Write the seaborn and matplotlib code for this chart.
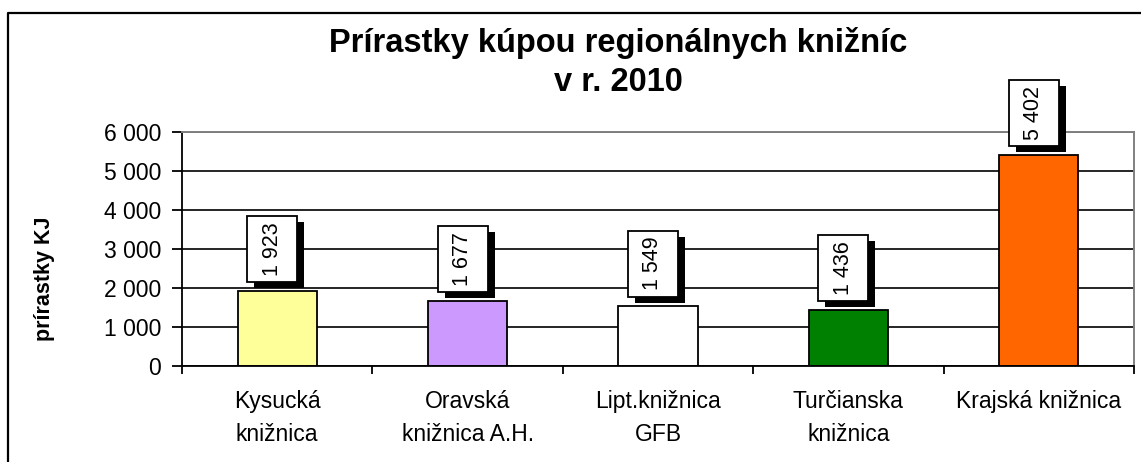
import matplotlib
matplotlib.use("Agg")
import matplotlib.pyplot as plt
import seaborn as sns
from matplotlib.patches import Rectangle
from matplotlib.lines import Line2D
from matplotlib.ticker import FuncFormatter, FixedLocator

# -------- DATA --------
libraries = ["Kysucká\nknižnica", "Oravská\nknižnica A.H.", "Lipt.knižnica\nGFB",
             "Turčianska\nknižnica", "Krajská knižnica"]
increments = [1923, 1677, 1549, 1436, 5402]
bar_colors = ["#FFFF99", "#CC99FF", "#FFFFFF", "#008000", "#FF6600"]
y_ticks = [0, 1000, 2000, 3000, 4000, 5000, 6000]

# -------- STYLE --------
sns.set_theme(style="white")
plt.rcParams["font.family"] = ["Liberation Sans", "DejaVu Sans"]
plt.rcParams["text.color"] = "black"
plt.rcParams["xtick.color"] = "black"
plt.rcParams["ytick.color"] = "black"
plt.rcParams["axes.labelcolor"] = "black"

W, H, DPI = 1141, 462, 100
fig = plt.figure(figsize=(W / DPI, H / DPI), dpi=DPI)
ax = fig.add_axes([182 / W, 1 - 366 / H, (1134 - 182) / W, (366 - 132) / H])

sns.barplot(x=list(range(len(increments))), y=increments, hue=list(range(len(increments))),
            palette=bar_colors, legend=False, width=0.415,
            edgecolor="black", linewidth=1.3, saturation=1, ax=ax)

ax.set_xlim(-0.5, len(increments) - 0.5)
ax.set_ylim(0, 6000)

# grid + spines
ax.set_axisbelow(True)
ax.yaxis.grid(True, color="black", linewidth=1.2)
for side in ["top", "right"]:
    ax.spines[side].set_color("#808080")
    ax.spines[side].set_linewidth(1.4)
for side in ["left", "bottom"]:
    ax.spines[side].set_color("black")
    ax.spines[side].set_linewidth(1.3)

# y axis
ax.yaxis.set_major_locator(FixedLocator(y_ticks))
ax.yaxis.set_major_formatter(FuncFormatter(lambda v, p: f"{v:,.0f}".replace(",", " ")))
ax.tick_params(axis="y", which="major", direction="out", length=7, width=1.3,
               color="black", pad=8, labelsize=16.5, left=True)

# x axis: labels at centers, ticks at category borders
ax.set_xticks(range(len(libraries)))
ax.set_xticklabels(libraries, linespacing=1.6)
ax.set_xticks([i - 0.5 for i in range(len(libraries) + 1)], minor=True)
ax.tick_params(axis="x", which="major", length=0, pad=17, labelsize=16.5)
ax.tick_params(axis="x", which="minor", direction="out", length=6, width=1.3,
               color="black", bottom=True)
ax.set_xlabel("")

ax.set_ylabel("prírastky KJ", fontsize=15.5, fontweight="bold")
ax.yaxis.set_label_coords(-0.1335, 0.372)

# -------- VALUE LABEL BOXES --------
ax_w_px = 1134 - 182
ax_h_px = 366 - 132
px_x = len(increments) / ax_w_px      # data units per pixel (x)
px_y = 6000 / ax_h_px                 # data units per pixel (y)
box_w, box_h, gap = 50 * px_x, 66 * px_y, 9 * px_y
sh_dx, sh_dy = 7 * px_x, 6 * px_y
for i, v in enumerate(increments):
    cx = i - 5 * px_x
    x0 = cx - box_w / 2
    y0 = v + gap
    ax.add_patch(Rectangle((x0 + sh_dx, y0 - sh_dy), box_w, box_h, facecolor="black",
                           edgecolor="black", lw=0, clip_on=False, zorder=4))
    ax.add_patch(Rectangle((x0, y0), box_w, box_h, facecolor="white",
                           edgecolor="black", lw=1.3, clip_on=False, zorder=5))
    ax.text(cx, y0 + box_h / 2, f"{v:,}".replace(",", " "), rotation=90,
            ha="center", va="center", fontsize=15.5, zorder=6, clip_on=False)

# -------- TITLE --------
fig.text(618.5 / W, 1 - 27 / H, "Prírastky kúpou regionálnych knižníc\nv r. 2010",
         ha="center", va="top", fontsize=23.5, fontweight="bold", linespacing=1.35,
         multialignment="center")

# outer chart frame (left and top edges visible)
fig.add_artist(Line2D([8 / W, 8 / W, 1.0], [0.0, 1 - 13 / H, 1 - 13 / H],
                      transform=fig.transFigure, color="black", lw=1.6))

fig.savefig("out.png", dpi=DPI)
